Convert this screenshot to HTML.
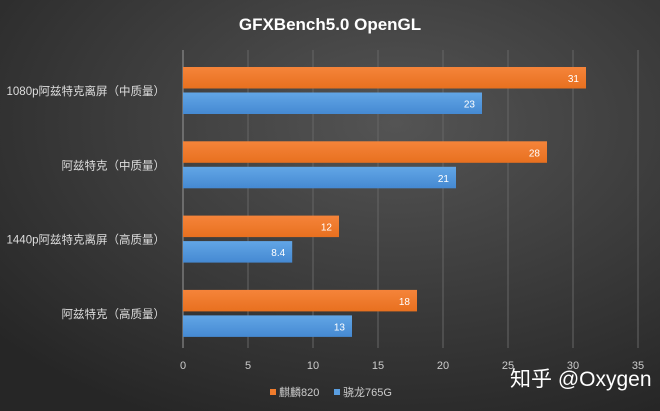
<!DOCTYPE html>
<html><head><meta charset="utf-8"><style>
body{margin:0;width:660px;height:411px;overflow:hidden;background:#333}
svg{display:block}
text{font-family:"Liberation Sans","Noto Sans CJK SC",sans-serif}
</style></head><body>
<svg id="c" width="660" height="411">
<defs>
<radialGradient id="bg" cx="0.6" cy="0.3" r="0.8"><stop offset="0" stop-color="#545454"/><stop offset="1" stop-color="#262626"/></radialGradient>
<linearGradient id="og" x1="0" y1="0" x2="0" y2="1"><stop offset="0" stop-color="#f5843a"/><stop offset="1" stop-color="#e8701f"/></linearGradient>
<linearGradient id="bl" x1="0" y1="0" x2="0" y2="1"><stop offset="0" stop-color="#62a6e6"/><stop offset="1" stop-color="#4589d2"/></linearGradient>
</defs>
<rect width="660" height="411" fill="url(#bg)"/>
<text x="330" y="30" text-anchor="middle" fill="#fff" font-size="17" font-weight="bold">GFXBench5.0  OpenGL</text>
<g id="grid"></g><g id="bars"></g><g id="labels"></g>
<g>
<rect x="270" y="389" width="6" height="6" fill="#ef7b2c"/>
<text x="279" y="396" fill="#ccc" font-size="11">麒麟820</text>
<rect x="334" y="389" width="6" height="6" fill="#5a9ee0"/>
<text x="343" y="396" fill="#ccc" font-size="11">骁龙765G</text>
</g>
<text x="510" y="386" fill="#fff" font-size="21">知乎 @Oxygen</text>
</svg>
<script>
const categories=["1080p阿兹特克离屏（中质量）","阿兹特克（中质量）","1440p阿兹特克离屏（高质量）","阿兹特克（高质量）"];
const kirin=[31,28,12,18];
const snapdragon=[23,21,8.4,13];
const ticks=[0,5,10,15,20,25,30,35];
const NS="http://www.w3.org/2000/svg";
const x=v=>183+v*13;
const rowY=i=>67+i*74.3;
function mk(t,a,p){const e=document.createElementNS(NS,t);for(const k in a)e.setAttribute(k,a[k]);p.appendChild(e);return e;}
const G=document.getElementById('grid'),B=document.getElementById('bars'),L=document.getElementById('labels');
ticks.forEach(t=>{
 const l=mk('line',{x1:x(t),x2:x(t),y1:50,y2:348,stroke:t===0?'#999':'#666','stroke-width':1},G);
 
 
 const tx=mk('text',{x:x(t),y:369,'text-anchor':'middle',fill:'#ccc','font-size':11},G);
 tx.textContent=t;
 
 
});
categories.forEach((c,i)=>{
 const y=rowY(i);
 [[kirin[i],'url(#og)',y],[snapdragon[i],'url(#bl)',y+25.5]].forEach(([v,f,yy],j)=>{
  const r=mk('rect',{x:x(0),y:yy,width:x(v)-x(0),height:21.5,fill:f},B);
  
  
  const t=mk('text',{x:x(v)-7,y:yy+15,'text-anchor':'end',fill:'#fff','font-size':10},B);
  t.textContent=v;
  
  
 });
 const t=mk('text',{x:165,y:y+28,'text-anchor':'end',fill:'#ddd','font-size':11.5},L);
 t.textContent=c;
 
 
});
</script>
</body></html>
